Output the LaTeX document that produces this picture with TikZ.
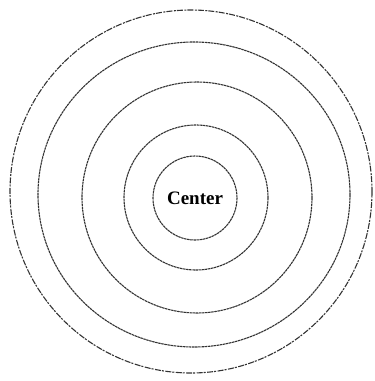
\documentclass[tikz,border=0pt]{standalone}
\usepackage{fontspec}
\setmainfont{Liberation Serif}
\begin{document}
\begin{tikzpicture}[x=1pt,y=-1pt,
  ring/.style={draw=black!80,line width=1.1pt,dash pattern=on 2.5pt off 0.6pt},
  outerring/.style={draw=black!80,line width=1.1pt,dash pattern=on 6pt off 1.5pt on 2pt off 1pt}]
\useasboundingbox (0,0) rectangle (375,381);
\draw[outerring] (191,191.5) ellipse [x radius=181, y radius=181.5];
\draw[ring] (194,194.5) ellipse [x radius=156, y radius=152.5];
\draw[ring] (197,197.5) ellipse [x radius=115, y radius=115.5];
\draw[ring] (196,197.5) ellipse [x radius=72, y radius=72.5];
\draw[ring] (195,198) circle [radius=42];
\node[font=\fontsize{19}{22}\selectfont\bfseries] (center) at (195,198) {Center};
\end{tikzpicture}
\end{document}
